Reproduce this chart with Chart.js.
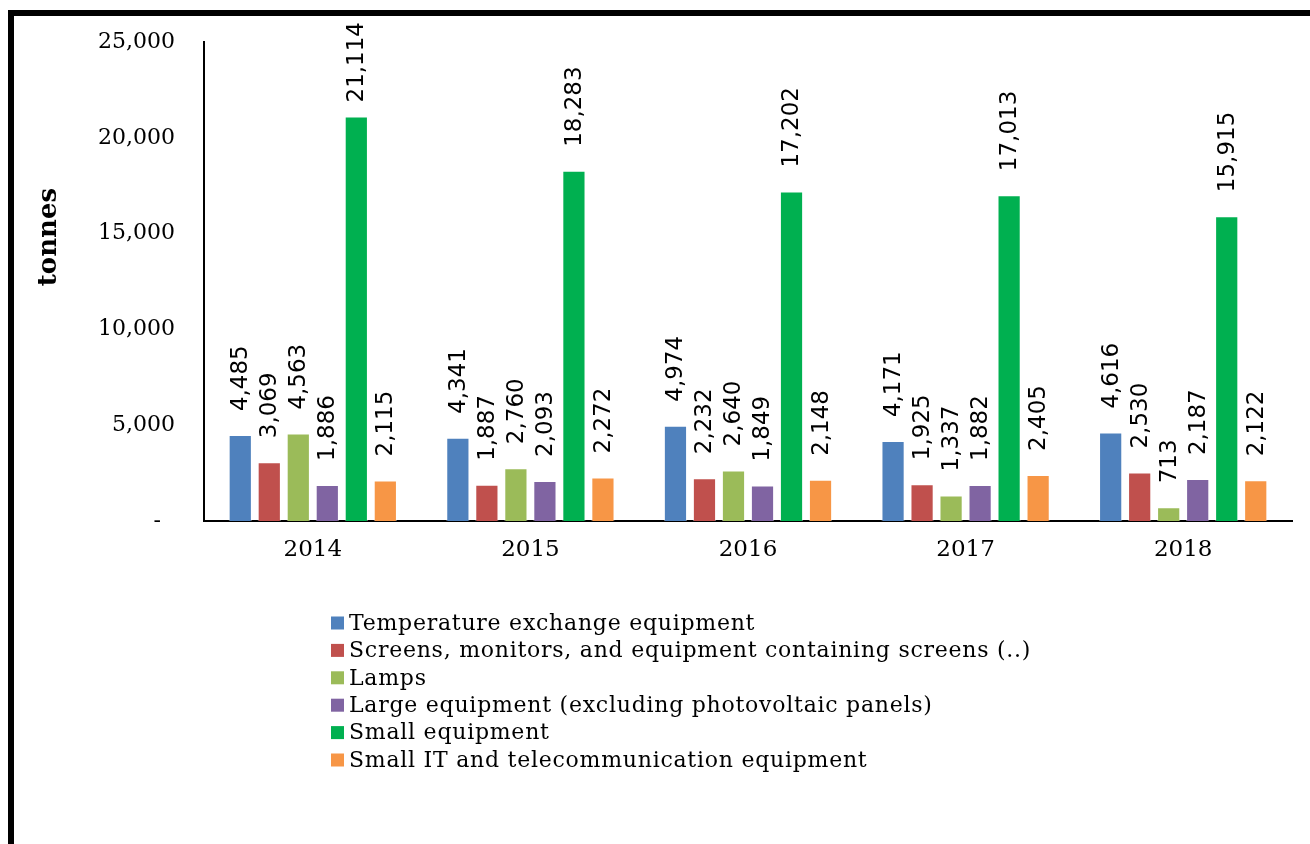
<!DOCTYPE html>
<html><head><meta charset="utf-8">
<script src="https://cdn.jsdelivr.net/npm/chart.js@4"></script>
<style>
html,body{margin:0;padding:0;background:#fff;}
#wrap{position:relative;width:1310px;height:844px;overflow:hidden;background:#fff;}
#frame{position:absolute;left:8px;top:10px;width:1400px;height:900px;border-left:6px solid #000;border-top:6px solid #000;box-sizing:border-box;}
canvas{position:absolute;left:0;top:0;}
</style></head><body>
<div id="wrap"><div id="frame"></div><canvas id="c" width="1310" height="844"></canvas></div>
<script>
const years = ['2014', '2015', '2016', '2017', '2018'];
const seriesNames = [
  'Temperature exchange equipment',
  'Screens, monitors, and equipment containing screens (..)',
  'Lamps',
  'Large equipment (excluding photovoltaic panels)',
  'Small equipment',
  'Small IT and telecommunication equipment'
];
const temperatureExchange = [4485, 4341, 4974, 4171, 4616];
const screens = [3069, 1887, 2232, 1925, 2530];
const lamps = [4563, 2760, 2640, 1337, 713];
const largeEquipment = [1886, 2093, 1849, 1882, 2187];
const smallEquipment = [21114, 18283, 17202, 17013, 15915];
const smallIT = [2115, 2272, 2148, 2405, 2122];
const yTickValues = [0, 5000, 10000, 15000, 20000, 25000];
const yTitle = 'tonnes';
const colors = ['#4F81BD', '#C0504D', '#9BBB59', '#8064A2', '#00B050', '#F79646'];

const seriesValues = [temperatureExchange, screens, lamps, largeEquipment, smallEquipment, smallIT];
const datasets = seriesValues.map((vals, i) => ({
  label: seriesNames[i],
  data: vals,
  backgroundColor: colors[i],
  borderColor: 'rgba(255,255,255,0.45)',
  borderWidth: 1,
  categoryPercentage: 0.8,
  barPercentage: 0.8
}));

const fmt = v => v.toLocaleString('en-US');

const labelPlugin = {
  id: 'vlabels',
  afterDatasetsDraw(chart) {
    const ctx = chart.ctx;
    ctx.save();
    ctx.font = '23px "DejaVu Sans"';
    ctx.fillStyle = '#000';
    ctx.textAlign = 'left';
    ctx.textBaseline = 'middle';
    chart.data.datasets.forEach((ds, i) => {
      const meta = chart.getDatasetMeta(i);
      meta.data.forEach((bar, j) => {
        const txt = fmt(ds.data[j]);
        const w = ctx.measureText(txt).width;
        let start = bar.y - 24;
        if (start - w < 22) start = 22 + w;
        ctx.save();
        ctx.translate(bar.x + 1, start);
        ctx.rotate(-Math.PI / 2);
        ctx.fillText(txt, 0, 0);
        ctx.restore();
      });
    });
    ctx.restore();
  }
};

const legendPlugin = {
  id: 'vlegend',
  afterDraw(chart) {
    const ctx = chart.ctx;
    ctx.save();
    ctx.font = '22px "DejaVu Serif"';
    try { ctx.letterSpacing = '0.75px'; } catch (e) {}
    ctx.textBaseline = 'middle';
    ctx.textAlign = 'left';
    chart.data.datasets.forEach((ds, i) => {
      const y = 623 + i * 27.4;
      ctx.fillStyle = ds.backgroundColor;
      ctx.fillRect(331, y - 6.5, 13, 13);
      ctx.fillStyle = '#000';
      ctx.fillText(ds.label, 349, y + 1);
    });
    try { ctx.letterSpacing = '0px'; } catch (e) {}
    // y axis title
    ctx.font = 'bold 26px "DejaVu Serif"';
    ctx.textAlign = 'center';
    ctx.translate(49, 237);
    ctx.rotate(-Math.PI / 2);
    ctx.fillText(yTitle, 0, 0);
    ctx.restore();
  }
};

new Chart(document.getElementById('c'), {
  type: 'bar',
  data: { labels: years, datasets },
  options: {
    responsive: false,
    animation: false,
    devicePixelRatio: 1,
    layout: { padding: { top: 42, right: 18, bottom: 263, left: 0 } },
    plugins: { legend: { display: false }, tooltip: { enabled: false } },
    scales: {
      x: {
        grid: { display: false, drawTicks: false },
        border: { display: true, color: '#000', width: 2 },
        ticks: { color: '#000', font: { family: 'DejaVu Serif', size: 23 }, padding: 15 },
        afterFit: s => { s.height = 60; }
      },
      y: {
        min: 0, max: 25000,
        afterBuildTicks: s => { s.ticks = yTickValues.map(v => ({ value: v })); },
        grid: { display: false, drawTicks: false },
        border: { display: true, color: '#000', width: 2 },
        ticks: {
          color: '#000', font: { family: 'DejaVu Serif', size: 22 }, padding: 29,
          callback: v => v === 0 ? '-  ' : fmt(v)
        },
        afterFit: s => { s.width = 204; }
      }
    }
  },
  plugins: [labelPlugin, legendPlugin]
});
</script>
</body></html>
